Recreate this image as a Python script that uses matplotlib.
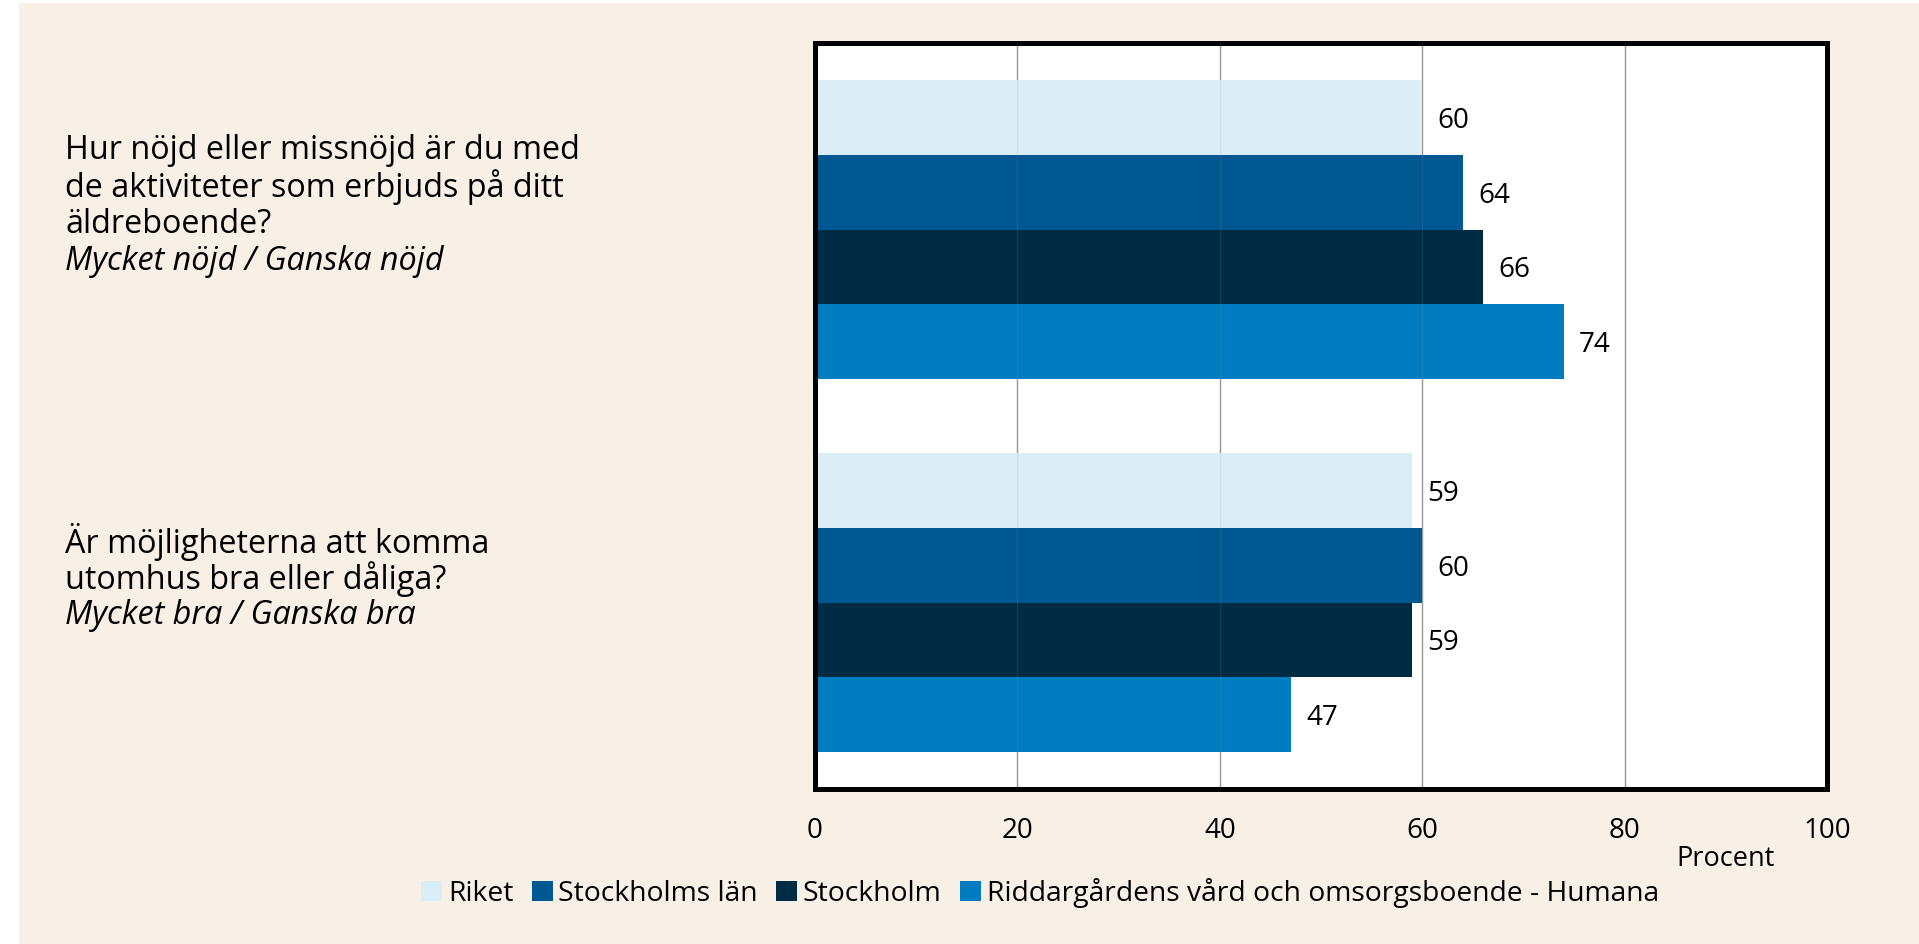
import matplotlib.pyplot as plt
from matplotlib.patches import Rectangle
from matplotlib.patches import Patch
import matplotlib.transforms as mtransforms

plt.rcParams['font.family'] = ['Open Sans', 'DejaVu Sans']

# Data
series = ['Riket', 'Stockholms län', 'Stockholm',
          'Riddargårdens vård och omsorgsboende - Humana']
colors = ['#DBEEF5', '#005893', '#002B45', '#007CC1']
question_lines = [
    ['Hur nöjd eller missnöjd är du med', 'de aktiviteter som erbjuds på ditt', 'äldreboende?'],
    ['Är möjligheterna att komma', 'utomhus bra eller dåliga?'],
]
question_subs = ['Mycket nöjd / Ganska nöjd', 'Mycket bra / Ganska bra']
values = {
    'Riket': [60, 59],
    'Stockholms län': [64, 60],
    'Stockholm': [66, 59],
    'Riddargårdens vård och omsorgsboende - Humana': [74, 47],
}
xticks = [0, 20, 40, 60, 80, 100]

fig = plt.figure(figsize=(19.19, 9.44), dpi=100, facecolor='white')
# cream background panel (white strip left and top)
fig.patches.append(Rectangle((19 / 1919, 0), 1, 1 - 3 / 944, transform=fig.transFigure,
                             facecolor='#F8F0E6', edgecolor='none', zorder=-10))

ax = fig.add_axes([815 / 1919, 1 - 789 / 944, (1827 - 815) / 1919, (789 - 43) / 944])
ax.set_facecolor('white')

group_centers = [7.5, 2.5]
for i, s in enumerate(series):
    ys = [c + 1.5 - i for c in group_centers]
    ax.barh(ys, values[s], height=1.0, color=colors[i], zorder=2)
    for y, v in zip(ys, values[s]):
        ax.annotate(str(v), (v, y), xytext=(11, -2.5), textcoords='offset points',
                    va='center', ha='left', fontsize=20, color='black')

ax.set_xlim(0, 100)
ax.set_ylim(0, 10)
ax.set_xticks(xticks)
ax.set_yticks([])
ax.tick_params(axis='x', length=0, pad=20, labelsize=20)
for x in xticks[1:-1]:
    ax.axvline(x, color='#999999', lw=1, zorder=1)
    ax.axvline(x, color='#999999', lw=1, alpha=0.15, zorder=3)
for sp in ax.spines.values():
    sp.set_linewidth(3.6)
    sp.set_color('black')

# question labels left of the plot
trans = mtransforms.blended_transform_factory(fig.transFigure, ax.transData)
for c, lines, sub in zip(group_centers, question_lines, question_subs):
    all_lines = lines + [sub]
    top = c + (len(all_lines) - 1) * 0.25 + 0.31
    for k, line in enumerate(all_lines):
        ax.text(65 / 1919, top - k * 0.495, line, transform=trans, fontsize=23.3,
                style='italic' if k == len(all_lines) - 1 else 'normal',
                va='center', ha='left', clip_on=False)

fig.text(1726 / 1919, 1 - 859 / 944, 'Procent', fontsize=19.5, ha='center', va='center')

handles = [Patch(facecolor=c, edgecolor='none') for c in colors]
fig.legend(handles, series, loc='center', bbox_to_anchor=(1040 / 1919, 1 - 893 / 944),
           ncol=4, frameon=False, fontsize=20.3, handlelength=0.75, handleheight=0.75,
           handletextpad=0.2, columnspacing=0.65)

fig.savefig('out.png', dpi=100, facecolor=fig.get_facecolor())
